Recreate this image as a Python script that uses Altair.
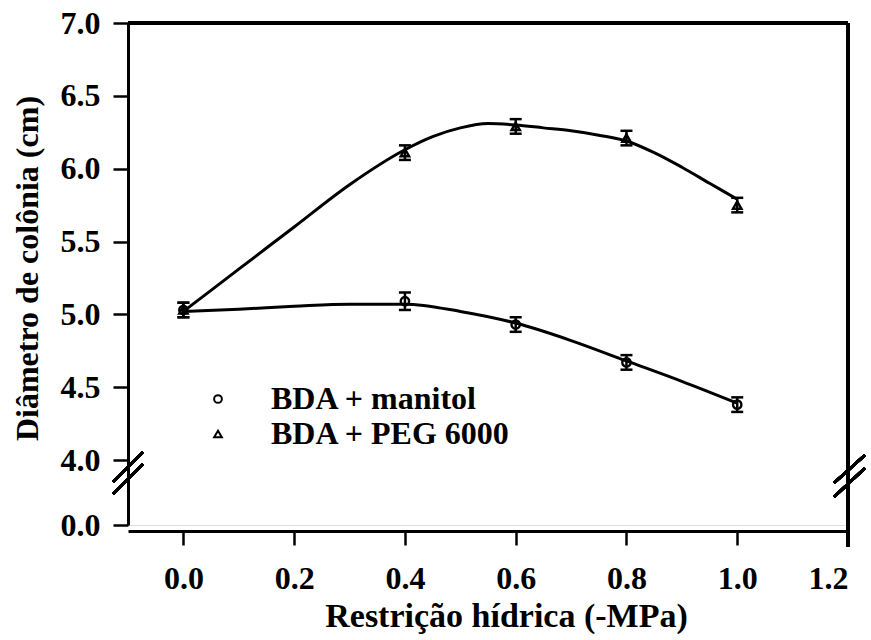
import altair as alt
import pandas as pd

# ---- data ----
x_vals = [0.0, 0.4, 0.6, 0.8, 1.0]
manitol_mean = [5.03, 5.09, 4.93, 4.67, 4.38]
manitol_err = [0.05, 0.06, 0.05, 0.05, 0.05]
peg_mean = [5.03, 6.11, 6.29, 6.21, 5.75]
peg_err = [0.05, 0.05, 0.05, 0.05, 0.05]

peg_curve_x = [0.0, 0.1, 0.2, 0.3, 0.4, 0.45, 0.5, 0.55, 0.6, 0.65, 0.7, 0.75, 0.8, 0.85, 0.9, 0.95, 1.0]
peg_curve_y = [5.02, 5.31, 5.60, 5.89, 6.13, 6.22, 6.28, 6.31, 6.30, 6.28, 6.26, 6.23, 6.19, 6.11, 6.01, 5.90, 5.79]
man_curve_x = [0.0, 0.1, 0.2, 0.3, 0.4, 0.5, 0.6, 0.7, 0.8, 0.9, 1.0]
man_curve_y = [5.02, 5.035, 5.055, 5.07, 5.07, 5.02, 4.94, 4.82, 4.68, 4.54, 4.39]

series_names = ["BDA + manitol", "BDA + PEG 6000"]
x_ticks = [0.0, 0.2, 0.4, 0.6, 0.8, 1.0, 1.2]
y_ticks = [0.0, 4.0, 4.5, 5.0, 5.5, 6.0, 6.5, 7.0]

FONT = "Liberation Serif"

pts = pd.DataFrame({
    "x": x_vals * 2,
    "y": manitol_mean + peg_mean,
    "lo": [m - e for m, e in zip(manitol_mean, manitol_err)] + [m - e for m, e in zip(peg_mean, peg_err)],
    "hi": [m + e for m, e in zip(manitol_mean, manitol_err)] + [m + e for m, e in zip(peg_mean, peg_err)],
    "series": [series_names[0]] * 5 + [series_names[1]] * 5,
})
curves = pd.DataFrame({
    "x": man_curve_x + peg_curve_x,
    "y": man_curve_y + peg_curve_y,
    "series": [series_names[0]] * len(man_curve_x) + [series_names[1]] * len(peg_curve_x),
})

W, H = 720, 502
xscale = alt.Scale(domain=[-0.1, 1.2], nice=False, zero=False)
yscale = alt.Scale(domain=[0, 4, 7], range=[H, 437, 0], nice=False, zero=False)

xaxis = alt.Axis(values=x_ticks, format=".1f", title="Restrição hídrica (-MPa)", offset=6,
                 tickSize=14, labelPadding=18, titlePadding=5, titleFontSize=34, titleX=378)
yaxis = alt.Axis(values=y_ticks, format=".1f", title="Diâmetro de colônia (cm)",
                 tickSize=15, labelPadding=13, titlePadding=16, titleY=245)

base = alt.Chart(curves)

lines = base.mark_line(color="black", strokeWidth=3, opacity=1, interpolate="monotone").encode(
    x=alt.X("x:Q", scale=xscale, axis=xaxis),
    y=alt.Y("y:Q", scale=yscale, axis=yaxis),
    detail="series:N",
)

err = alt.Chart(pts).mark_rule(color="black", strokeWidth=2.5, opacity=1).encode(
    x=alt.X("x:Q", scale=xscale), y=alt.Y("lo:Q", scale=yscale), y2="hi:Q")
cap_lo = alt.Chart(pts).mark_tick(color="black", orient="horizontal", size=12, thickness=2.5, opacity=1).encode(
    x=alt.X("x:Q", scale=xscale), y=alt.Y("lo:Q", scale=yscale))
cap_hi = alt.Chart(pts).mark_tick(color="black", orient="horizontal", size=12, thickness=2.5, opacity=1).encode(
    x=alt.X("x:Q", scale=xscale), y=alt.Y("hi:Q", scale=yscale))

points = alt.Chart(pts).mark_point(filled=False, color="black", size=70, strokeWidth=2.4, opacity=1).encode(
    x=alt.X("x:Q", scale=xscale),
    y=alt.Y("y:Q", scale=yscale),
    shape=alt.Shape("series:N",
                    scale=alt.Scale(domain=series_names, range=["circle", "triangle-up"]),
                    legend=alt.Legend(title=None, orient="none", legendX=74, legendY=360)),
)

# frame: top line and right line
top_line = alt.Chart(curves).mark_rule(color="black", strokeWidth=3).encode(
    y=alt.datum(7.0), x=alt.datum(-0.1), x2=alt.datum(1.2))
right_line = alt.Chart(curves).mark_rule(color="black", strokeWidth=2.5).encode(
    x=alt.datum(1.2), y=alt.value(0), y2=alt.value(H + 22))

# axis break marks
brk = [
    alt.Chart(curves).mark_rule(color="black", strokeWidth=2.5).encode(
        x=alt.value(-15), x2=alt.value(15), y=alt.value(459), y2=alt.value(429)),
    alt.Chart(curves).mark_rule(color="black", strokeWidth=2.5).encode(
        x=alt.value(-15), x2=alt.value(15), y=alt.value(471), y2=alt.value(441)),
    alt.Chart(curves).mark_rule(color="black", strokeWidth=2.5).encode(
        x=alt.value(W - 14), x2=alt.value(W + 17), y=alt.value(460), y2=alt.value(432)),
    alt.Chart(curves).mark_rule(color="black", strokeWidth=2.5).encode(
        x=alt.value(W - 14), x2=alt.value(W + 17), y=alt.value(474), y2=alt.value(445)),
]

chart = alt.layer(lines, err, cap_lo, cap_hi, points, top_line, right_line, *brk).properties(
    width=W, height=H,
    autosize=alt.AutoSizeParams(type="none"),
    padding={"left": 128, "top": 23, "right": 23, "bottom": 115},
).configure_view(stroke=None).configure(
    background="white", font=FONT
).configure_axis(
    grid=False, tickWidth=2.5, domainWidth=3, domainColor="black", tickColor="black",
    labelFont=FONT, labelFontSize=32, labelFontWeight="bold", labelColor="black",
    titleFont=FONT, titleFontSize=32, titleFontWeight="bold", titleColor="black",
).configure_legend(
    labelFont=FONT, labelFontSize=32, labelFontWeight="bold", labelColor="black", labelLimit=0,
    labelOffset=37, symbolSize=60, symbolStrokeWidth=2, symbolStrokeColor="black",
    symbolFillColor="white", symbolOpacity=1, rowPadding=3,
)

chart.save("out.html", embed_options={"renderer": "svg", "actions": False})
